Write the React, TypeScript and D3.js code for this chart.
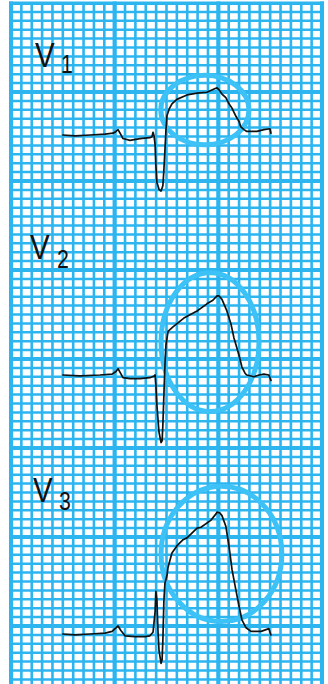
import React from 'react';
import * as d3 from 'd3';

const W = 328;
const H = 684;

// ---- data: precordial leads, time in ms, amplitude in mV (relative to baseline) ----
const v1Time = [200, 247, 305, 363, 394, 405, 413, 421, 432, 459, 498, 536, 544, 548, 552, 556, 559, 563, 571, 579, 586, 590, 594, 598, 602, 610, 621, 640, 679, 718, 756, 779, 795, 802, 814, 829, 841, 853, 868, 880, 887, 899, 910, 949, 976, 999, 1003];
const v1Volt = [0, -0.01, 0, 0.01, 0.02, 0.04, 0.06, 0.02, -0.04, -0.06, -0.04, -0.03, -0.02, 0.03, -0.01, -0.11, -0.34, -0.53, -0.61, -0.63, -0.57, -0.39, -0.17, 0.06, 0.22, 0.29, 0.35, 0.40, 0.45, 0.47, 0.48, 0.51, 0.53, 0.51, 0.46, 0.42, 0.35, 0.30, 0.21, 0.15, 0.09, 0.06, 0.04, 0.04, 0.06, 0.07, 0.02];

const v2Time = [200, 266, 343, 390, 405, 413, 421, 432, 459, 498, 536, 552, 556, 559, 563, 571, 579, 583, 586, 590, 594, 598, 606, 625, 667, 718, 756, 779, 795, 802, 814, 833, 849, 860, 868, 880, 891, 903, 910, 937, 957, 976, 995, 1003];
const v2Volt = [0, -0.01, 0, 0.01, 0.04, 0.07, 0.03, -0.03, -0.04, -0.04, -0.03, -0.01, 0, -0.11, -0.34, -0.64, -0.76, -0.74, -0.56, -0.22, 0.11, 0.34, 0.49, 0.54, 0.64, 0.72, 0.80, 0.84, 0.89, 0.89, 0.85, 0.72, 0.57, 0.42, 0.34, 0.22, 0.09, 0.02, 0, -0.02, 0, 0.01, 0, -0.06];

const v3Time = [200, 247, 305, 363, 390, 405, 413, 424, 440, 478, 517, 536, 548, 556, 559, 563, 567, 571, 579, 583, 586, 590, 594, 602, 606, 621, 640, 664, 679, 718, 733, 772, 791, 795, 806, 814, 829, 841, 853, 868, 880, 891, 907, 926, 965, 995, 1003];
const v3Volt = [0, -0.01, 0, 0.01, 0.03, 0.07, 0.09, 0.04, -0.02, -0.03, -0.03, -0.02, 0.02, 0.25, 0.48, 0.38, 0.04, -0.18, -0.33, -0.29, -0.07, 0.38, 0.57, 0.66, 0.75, 0.91, 0.99, 1.06, 1.08, 1.19, 1.20, 1.28, 1.35, 1.37, 1.36, 1.33, 1.21, 0.99, 0.72, 0.49, 0.31, 0.16, 0.07, 0.03, 0.03, 0.06, -0.01];

const leadLetters = ['V', 'V', 'V'];
const leadSubs = ['1', '2', '3'];

// annotation ellipses around the ST segments (centre ms, centre mV, half-width ms, half-height mV)
const ringCx = [748, 768, 812];
const ringCy = [0.28, 0.37, 0.90];
const ringRx = [170, 189, 233];
const ringRy = [0.39, 0.78, 0.76];

// ---- layout ----
const GRID_LEFT = 11;
const GRID_RIGHT = 322;
const GRID_TOP = 3;
const SPAN_MS = 1200;
const PX_PER_MV = 89;
const DEPTH_MAX = 7.9;
const baselineDepth = [1.483, 4.18, 7.09];
const labelPos = [
  { x: 35, y: 67, sx: 61, sy: 73 },
  { x: 30, y: 259, sx: 57, sy: 268 },
  { x: 33, y: 502, sx: 59, sy: 510 },
];

const GRID = '#2db5f0';
const RING = '#3dc2f7';

export default function App() {
  const x = d3.scaleLinear().domain([0, SPAN_MS]).range([GRID_LEFT, GRID_RIGHT]);
  const y = d3.scaleLinear().domain([0, DEPTH_MAX]).range([GRID_TOP, GRID_TOP + DEPTH_MAX * PX_PER_MV]);

  const vLines = d3.range(0, 31).map((i) => ({ v: x(i * 40), major: i % 10 === 0 }));
  const hLines = d3.range(0, Math.floor(DEPTH_MAX * 10) + 1).map((j) => ({ v: y(j * 0.1), major: j % 10 === 0 }));

  const leads = [
    { t: v1Time, v: v1Volt },
    { t: v2Time, v: v2Volt },
    { t: v3Time, v: v3Volt },
  ];

  const paths = leads.map((L, k) => {
    const pts = L.t.map((t, i) => [t, L.v[i]] as [number, number]);
    const line = d3
      .line<[number, number]>()
      .x((d) => x(d[0]))
      .y((d) => y(baselineDepth[k] - d[1]))
      .curve(d3.curveLinear);
    return line(pts) || '';
  });

  const pxPerMs = (GRID_RIGHT - GRID_LEFT) / SPAN_MS;

  return (
    <svg width={W} height={H} style={{ position: 'absolute', left: 0, top: 0, background: '#fff' }}>
      <defs>
        <clipPath id="paper">
          <rect x={GRID_LEFT - 2} y={GRID_TOP - 1.5} width={GRID_RIGHT - GRID_LEFT + 4} height={H} />
        </clipPath>
      </defs>
      <g clipPath="url(#paper)">
        <rect x={GRID_LEFT} y={GRID_TOP} width={GRID_RIGHT - GRID_LEFT} height={H} fill="#fff" />
        {vLines.filter((l) => !l.major).map((l, i) => (
          <line key={'vm' + i} x1={l.v} x2={l.v} y1={GRID_TOP} y2={H} stroke={GRID} strokeWidth={2.6} />
        ))}
        {hLines.filter((l) => !l.major).map((l, i) => (
          <line key={'hm' + i} x1={GRID_LEFT} x2={GRID_RIGHT} y1={l.v} y2={l.v} stroke={GRID} strokeWidth={2.5} />
        ))}
        {vLines.filter((l) => l.major).map((l, i) => (
          <line key={'vM' + i} x1={l.v} x2={l.v} y1={GRID_TOP - 2} y2={H} stroke={GRID} strokeWidth={4.2} />
        ))}
        {hLines.filter((l) => l.major).map((l, i) => (
          <line key={'hM' + i} x1={GRID_LEFT - 2} x2={GRID_RIGHT + 2} y1={l.v} y2={l.v} stroke={GRID} strokeWidth={4} />
        ))}
      </g>

      {ringCx.map((cx, k) => (
        <ellipse
          key={'ring' + k}
          cx={x(cx)}
          cy={y(baselineDepth[k] - ringCy[k])}
          rx={ringRx[k] * pxPerMs}
          ry={ringRy[k] * PX_PER_MV}
          fill="none"
          stroke={RING}
          strokeWidth={5}
        />
      ))}

      {paths.map((d, k) => (
        <path key={'ecg' + k} d={d} fill="none" stroke="#111" strokeWidth={1.7} strokeLinejoin="round" strokeLinecap="round" />
      ))}

      {leadLetters.map((s, k) => (
        <g key={'lab' + k} fontFamily="'Liberation Sans', Arial, sans-serif" fill="#111">
          <text transform={`translate(${labelPos[k].x},${labelPos[k].y}) scale(0.82,1)`} fontSize={36}>
            {s}
          </text>
          <text transform={`translate(${labelPos[k].sx},${labelPos[k].sy}) scale(0.85,1)`} fontSize={25}>
            {leadSubs[k]}
          </text>
        </g>
      ))}
    </svg>
  );
}
